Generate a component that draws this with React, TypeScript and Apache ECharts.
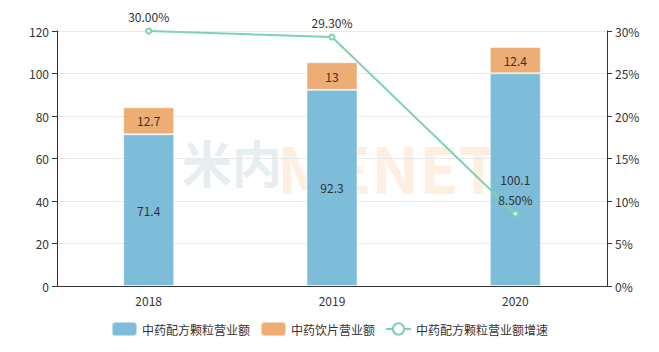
import React, { useEffect, useRef } from "react";
import * as echarts from "echarts";

const categories = ["2018", "2019", "2020"];
const granuleRevenue = [71.4, 92.3, 100.1];
const sliceRevenue = [12.7, 13, 12.4];
const growthRate = [30.0, 29.3, 8.5];
const leftTicks = { min: 0, max: 120, interval: 20 };
const rightTicks = { min: 0, max: 30, interval: 5 };

const FONT = "'Noto Sans CJK SC', 'Noto Sans', sans-serif";

export default function App() {
  const ref = useRef<HTMLDivElement>(null);
  useEffect(() => {
    if (!ref.current) return;
    const chart = echarts.init(ref.current, null, { renderer: "svg" });
    chart.setOption({
      animation: false,
      textStyle: { fontFamily: FONT },
      graphic: [
        {
          type: "text",
          left: 182,
          top: 136,
          z: -10,
          silent: true,
          style: { text: "米内", font: `bold 50px ${FONT}`, lineHeight: 44, fill: "rgba(205,222,230,0.5)" },
        },
        {
          type: "text",
          left: 277,
          top: 134,
          z: -10,
          silent: true,
          style: { text: "MENET", font: `bold 64px ${FONT}`, lineHeight: 48, fill: "rgba(252,215,180,0.4)" },
        },
      ],
      grid: { left: 57, right: 52, top: 31, bottom: 66, containLabel: false },
      legend: {
        bottom: 10,
        itemWidth: 25,
        itemHeight: 14,
        itemGap: 10,
        textStyle: { color: "#333", fontSize: 12, fontFamily: FONT },
        data: ["中药配方颗粒营业额", "中药饮片营业额", "中药配方颗粒营业额增速"],
      },
      xAxis: {
        type: "category",
        data: categories,
        axisLine: { lineStyle: { color: "#333" } },
        axisTick: { lineStyle: { color: "#333" } },
        axisLabel: { color: "#333", fontSize: 12 },
      },
      yAxis: [
        {
          type: "value",
          ...leftTicks,
          axisLine: { show: true, lineStyle: { color: "#333" } },
          axisTick: { show: true, lineStyle: { color: "#333" } },
          axisLabel: { color: "#333", fontSize: 12 },
          splitLine: { lineStyle: { color: "#e8e8e8" } },
        },
        {
          type: "value",
          ...rightTicks,
          axisLine: { show: true, lineStyle: { color: "#333" } },
          axisTick: { show: true, lineStyle: { color: "#333" } },
          axisLabel: { color: "#333", fontSize: 12, formatter: "{value}%" },
          splitLine: { show: false },
        },
      ],
      series: [
        {
          name: "中药配方颗粒营业额",
          type: "bar",
          stack: "rev",
          barWidth: 51,
          data: granuleRevenue,
          itemStyle: { color: "#7dbdd9", borderColor: "rgba(255,255,255,0.5)", borderWidth: 1 },
          label: { show: true, position: "inside", color: "#333", fontSize: 12 },
        },
        {
          name: "中药饮片营业额",
          type: "bar",
          stack: "rev",
          barWidth: 51,
          data: sliceRevenue,
          itemStyle: { color: "#edad74", borderColor: "rgba(255,255,255,0.5)", borderWidth: 1 },
          label: { show: true, position: "inside", color: "#333", fontSize: 12 },
        },
        {
          name: "中药配方颗粒营业额增速",
          type: "line",
          yAxisIndex: 1,
          data: growthRate,
          symbol: "emptyCircle",
          symbolSize: 5,
          lineStyle: { color: "#7dd3b0", width: 2 },
          itemStyle: { color: "#7dd3b0" },
          label: {
            show: true,
            position: "top",
            color: "#333",
            fontSize: 12,
            formatter: (p: any) => p.value.toFixed(2) + "%",
          },
          z: 5,
        },
      ],
    });
    return () => chart.dispose();
  }, []);
  return <div ref={ref} style={{ width: 659, height: 352, margin: -8 }} />;
}
